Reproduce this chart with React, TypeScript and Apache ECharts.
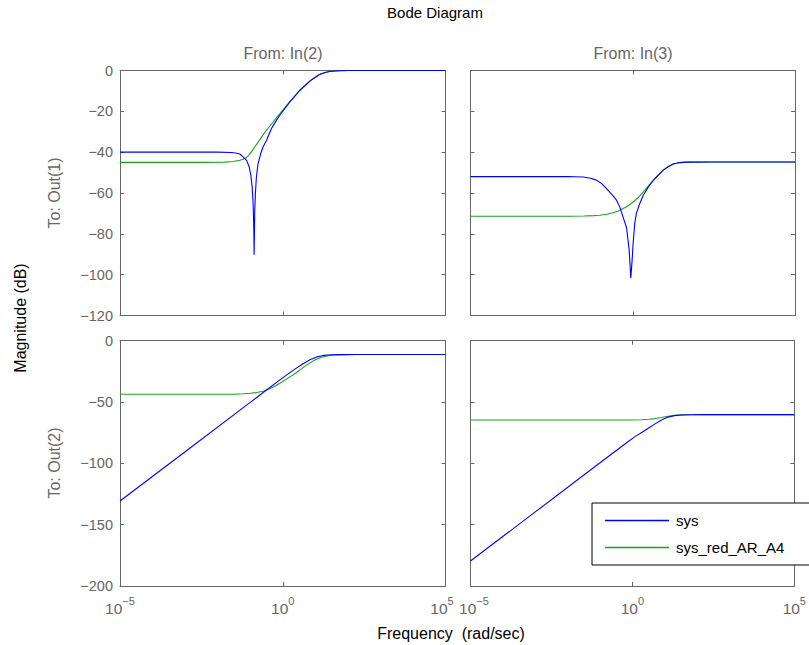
import React, { useEffect, useRef } from "react";
import * as echarts from "echarts";

// Frequencies are given as log10(omega) [rad/sec]; magnitudes in dB.
const freqTickExponents = [-5, 0, 5];
const magTicksRow1 = [0, -20, -40, -60, -80, -100, -120];
const magTicksRow2 = [0, -50, -100, -150, -200];

const inputNames = ["From: In(2)", "From: In(3)"];
const outputNames = ["To: Out(1)", "To: Out(2)"];
const seriesNames = ["sys", "sys_red_AR_A4"];

// Out(1) <- In(2)
const o1i2SysW = [-5, -3, -2, -1.6, -1.45, -1.32, -1.22, -1.11, -1.03, -0.98, -0.94, -0.91, -0.89, -0.88, -0.86, -0.84, -0.81, -0.76, -0.68, -0.6, -0.5, -0.35, -0.19, -0.09, 0.21, 0.52, 0.83, 1.0, 1.13, 1.3, 1.44, 1.6, 1.75, 2.0, 5];
const o1i2SysDb = [-40, -40, -40, -40.2, -40.4, -40.9, -42.3, -44, -47.3, -51.4, -57, -65, -76.7, -90.3, -68.6, -60.4, -52.3, -45.7, -40.8, -37.2, -34.3, -28.5, -24.3, -21.9, -15.5, -9.8, -5.2, -3.3, -2, -1, -0.5, -0.25, -0.1, 0, 0];
const o1i2RedW = [-5, -2.5, -1.8, -1.52, -1.32, -1.22, -1.11, -1.02, -0.92, -0.84, -0.74, -0.64, -0.54, -0.43, -0.12, 0.21, 0.52, 0.83, 1.0, 1.13, 1.3, 1.44, 1.6, 1.75, 2.0, 5];
const o1i2RedDb = [-45, -45, -44.9, -44.6, -44, -43.5, -42.6, -41.1, -38.9, -37, -34.7, -32.4, -30.1, -27.8, -21.7, -15.5, -9.8, -5.2, -3.3, -2, -1, -0.5, -0.25, -0.1, 0, 0];

// Out(1) <- In(3)
const o1i3SysW = [-5, -2, -1.8, -1.53, -1.3, -1.12, -0.95, -0.81, -0.6, -0.5, -0.4, -0.3, -0.19, -0.11, -0.06, -0.02, 0.01, 0.06, 0.11, 0.22, 0.33, 0.5, 0.64, 0.8, 0.94, 1.1, 1.25, 1.45, 1.67, 2.5, 5];
const o1i3SysDb = [-52, -52, -52.05, -52.2, -52.8, -53.7, -55.5, -57.8, -61.5, -63.5, -66.8, -71.7, -77, -88, -101.7, -93, -85, -75, -70, -65, -61, -56.5, -53.7, -51, -48.8, -47, -45.8, -45.1, -44.9, -44.8, -44.8];
const o1i3RedW = [-5, -2, -1.5, -1.2, -1.02, -0.8, -0.61, -0.45, -0.29, -0.13, 0.02, 0.18, 0.33, 0.48, 0.64, 0.8, 0.94, 1.1, 1.25, 1.45, 1.67, 2.5, 5];
const o1i3RedDb = [-71.4, -71.4, -71.3, -71.1, -70.9, -70.4, -69.7, -68.8, -67.6, -66.1, -64.3, -62, -59.4, -56.6, -53.7, -51, -48.8, -47, -45.8, -45.1, -44.9, -44.8, -44.8];

// Out(2) <- In(2)
const o2i2SysW = [-5, -3, -1, -0.5, -0.2, 0.1, 0.35, 0.6, 0.85, 1.05, 1.25, 1.5, 1.8, 2.2, 5];
const o2i2SysDb = [-130.7, -90.5, -50.3, -40.2, -34.2, -28.3, -23.6, -19.2, -15.4, -13.2, -12, -11.5, -11.35, -11.3, -11.3];
const o2i2RedW = [-5, -2, -1.5, -1.2, -1.0, -0.8, -0.6, -0.4, -0.2, 0, 0.2, 0.4, 0.6, 0.8, 1.0, 1.2, 1.4, 1.6, 1.9, 2.3, 5];
const o2i2RedDb = [-43.7, -43.7, -43.6, -43.3, -42.9, -42.3, -41.2, -39.2, -36.5, -33.3, -29.9, -26.3, -22.4, -18.7, -15.6, -13.4, -12.2, -11.6, -11.35, -11.3, -11.3];

// Out(2) <- In(3)
const o2i3SysW = [-5, -3, -1, -0.2, 0.1, 0.3, 0.5, 0.7, 0.9, 1.1, 1.3, 1.5, 1.8, 2.2, 5];
const o2i3SysDb = [-179.6, -139.6, -99.5, -83.6, -77.8, -74.6, -71.2, -67.8, -64.6, -62.3, -61.1, -60.6, -60.4, -60.3, -60.3];
const o2i3RedW = [-5, 0, 0.3, 0.5, 0.7, 0.9, 1.1, 1.3, 1.5, 1.8, 2.2, 5];
const o2i3RedDb = [-64.7, -64.6, -64.4, -64.1, -63.5, -62.6, -61.6, -60.9, -60.5, -60.35, -60.3, -60.3];

const sysColor = "#0000ff";
const redColor = "#1aa31a";
const axisColor = "#666666";
const FONT = "'Liberation Sans', Arial, Helvetica, sans-serif";

const zip = (w: number[], db: number[]) => w.map((x, i) => [x, db[i]]);
const minus = (v: number) => String(v).replace("-", "\u2212");

const grids = [
  { left: 120, top: 70.5, width: 325.5, height: 245 },
  { left: 470.5, top: 70.5, width: 324.5, height: 245 },
  { left: 120, top: 340.7, width: 325.5, height: 245.3 },
  { left: 470.5, top: 340.7, width: 324.5, height: 245.3 },
];

const panels = [
  { sys: zip(o1i2SysW, o1i2SysDb), red: zip(o1i2RedW, o1i2RedDb), ticks: magTicksRow1 },
  { sys: zip(o1i3SysW, o1i3SysDb), red: zip(o1i3RedW, o1i3RedDb), ticks: magTicksRow1 },
  { sys: zip(o2i2SysW, o2i2SysDb), red: zip(o2i2RedW, o2i2RedDb), ticks: magTicksRow2 },
  { sys: zip(o2i3SysW, o2i3SysDb), red: zip(o2i3RedW, o2i3RedDb), ticks: magTicksRow2 },
];

export default function App() {
  const ref = useRef<HTMLDivElement>(null);
  useEffect(() => {
    if (!ref.current) return;
    const chart = echarts.init(ref.current, undefined, { renderer: "svg" });
    const xMin = freqTickExponents[0];
    const xMax = freqTickExponents[freqTickExponents.length - 1];
    const xInterval = freqTickExponents[1] - freqTickExponents[0];

    const tickCommon = { show: true, inside: true, length: 4, lineStyle: { color: axisColor, width: 1 } };
    const lineCommon = { show: true, onZero: false, lineStyle: { color: axisColor, width: 1 } };
    const baseStyle = { fontSize: 15.5, color: axisColor, fontFamily: FONT, verticalAlign: "bottom" };
    const supStyle = { fontSize: 11, color: axisColor, fontFamily: FONT, verticalAlign: "bottom" };

    const xAxis: any[] = [];
    const yAxis: any[] = [];
    grids.forEach((_, i) => {
      const showX = i >= 2;
      const showY = i % 2 === 0;
      const t = panels[i].ticks;
      xAxis.push({
        gridIndex: i, type: "value", position: "bottom", min: xMin, max: xMax, interval: xInterval,
        axisLine: lineCommon, axisTick: tickCommon, splitLine: { show: false },
        axisLabel: {
          show: showX, showMinLabel: true, showMaxLabel: true, margin: 9,
          formatter: (v: number) => {
            if (i === 2 && v === xMax) return `{b|10}{sr|${minus(v)}}`;
            if (i === 3 && v === xMin) return `{bl|10}{s|${minus(v)}}`;
            return `{b|10}{s|${minus(v)}}`;
          },
          rich: {
            b: baseStyle,
            bl: { ...baseStyle, padding: [0, 0, 0, 7] },
            s: { ...supStyle, padding: [0, 0, 10, 0] },
            sr: { ...supStyle, padding: [0, 7, 10, 0] },
          },
        },
      });
      xAxis.push({
        gridIndex: i, type: "value", position: "top", min: xMin, max: xMax, interval: xInterval,
        axisLine: lineCommon, axisTick: tickCommon, splitLine: { show: false }, axisLabel: { show: false },
      });
      yAxis.push({
        gridIndex: i, type: "value", position: "left", min: t[t.length - 1], max: t[0], interval: t[0] - t[1],
        axisLine: lineCommon, axisTick: tickCommon, splitLine: { show: false },
        axisLabel: {
          show: showY, showMinLabel: true, showMaxLabel: true, margin: 7, fontSize: 14.5, color: axisColor, fontFamily: FONT,
          formatter: (v: number) => minus(v),
        },
      });
      yAxis.push({
        gridIndex: i, type: "value", position: "right", min: t[t.length - 1], max: t[0], interval: t[0] - t[1],
        axisLine: lineCommon, axisTick: tickCommon, splitLine: { show: false }, axisLabel: { show: false },
      });
    });

    const series: any[] = [];
    panels.forEach((p, i) => {
      [p.sys, p.red].forEach((data, k) => {
        series.push({
          type: "line", name: seriesNames[k], xAxisIndex: i * 2, yAxisIndex: i * 2, data,
          showSymbol: false, symbol: "none", smooth: false,
          lineStyle: { color: k === 0 ? sysColor : redColor, width: 1.1 },
          itemStyle: { color: k === 0 ? sysColor : redColor },
          z: k === 0 ? 3 : 2, silent: true,
        });
      });
    });

    const txt = (text: string, x: number, y: number, size: number, fill: string, rot = 0) => ({
      type: "text", x, y, rotation: rot, silent: true,
      style: { text, fill, fontSize: size, fontFamily: FONT, textAlign: "center", textVerticalAlign: "middle", align: "center", verticalAlign: "middle" },
    });

    chart.setOption({
      animation: false,
      textStyle: { fontFamily: FONT },
      grid: grids.map((g) => ({ ...g, containLabel: false })),
      xAxis, yAxis, series,
      legend: {
        orient: "vertical", left: 592, top: 503, icon: "rect", itemWidth: 64, itemHeight: 1.5, itemGap: 12,
        padding: [10, 40, 10, 13], borderColor: "#000", borderWidth: 1, backgroundColor: "#fff",
        selectedMode: false, data: seriesNames,
        textStyle: { fontSize: 15, color: "#000", fontFamily: FONT, padding: [0, 0, 0, 2] },
      },
      graphic: [
        txt("Bode Diagram", 435, 12, 15, "#000"),
        txt(inputNames[0], 283, 53, 16, axisColor),
        txt(inputNames[1], 633, 53, 16, axisColor),
        txt(outputNames[0], 54, 193, 16, axisColor, Math.PI / 2),
        txt(outputNames[1], 54, 463, 16, axisColor, Math.PI / 2),
        txt("Magnitude (dB)", 20, 318, 16, "#000", Math.PI / 2),
        txt("Frequency  (rad/sec)", 451, 633, 16, "#000"),
      ],
    });
    return () => chart.dispose();
  }, []);
  return <div ref={ref} style={{ position: "absolute", left: 0, top: 0, width: 809, height: 645, background: "#fff" }} />;
}
